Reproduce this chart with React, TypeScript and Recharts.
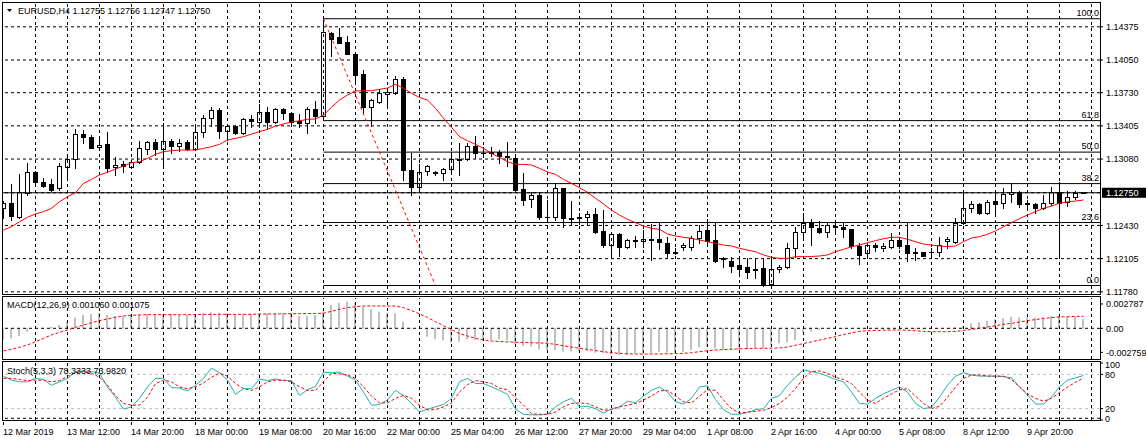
import React from 'react';
import { ComposedChart, Bar, Line, XAxis, YAxis, ReferenceLine } from 'recharts';

const FONT = "'Liberation Sans', Arial, sans-serif";
const W = 1146;
const H = 441;
const AXIS_W = 46;
const PLOT_RIGHT = W - AXIS_W;
const X_DOMAIN: [number, number] = [-0.0625, 137.0625];
const PRICE_DOMAIN: [number, number] = [1.11749, 1.14608];
const MACD_DOMAIN: [number, number] = [-0.00352, 0.003475];

const titleText = 'EURUSD,H4  1.12755 1.12756 1.12747 1.12750';
const macdText = 'MACD(12,26,9) 0.001060 0.001075';
const stochText = 'Stoch(5,3,3) 78.3333 73.9820';

// one label every 8 bars (32 hours), starting at the first bar
const timeLabels = [
  '12 Mar 2019', '13 Mar 12:00', '14 Mar 20:00', '18 Mar 00:00', '19 Mar 08:00', '20 Mar 16:00',
  '22 Mar 00:00', '25 Mar 04:00', '26 Mar 12:00', '27 Mar 20:00', '29 Mar 04:00', '1 Apr 08:00',
  '2 Apr 16:00', '4 Apr 00:00', '5 Apr 08:00', '8 Apr 12:00', '9 Apr 20:00',
];

const priceTicks = [1.1178, 1.12105, 1.1243, 1.1275, 1.1308, 1.13405, 1.1373, 1.1405, 1.14375];
const macdTicks = [-0.002759, 0, 0.002787];
const stochTicks = [0, 20, 80, 100];

const opens = [
  1.12598, 1.12647, 1.12516, 1.1275, 1.1295, 1.12852, 1.12836, 1.12794, 1.13005, 1.13077,
  1.13325, 1.13293, 1.13195, 1.13227, 1.12999, 1.13028, 1.13005, 1.13054, 1.13175, 1.1325,
  1.13175, 1.13257, 1.13208, 1.13244, 1.13181, 1.13342, 1.13479, 1.1356, 1.13357, 1.13406,
  1.13338, 1.13469, 1.13446, 1.13538, 1.13446, 1.1357, 1.13528, 1.13455, 1.13436, 1.13567,
  1.13504, 1.14311, 1.14272, 1.14223, 1.14108, 1.13913, 1.13587, 1.13641, 1.1372, 1.13727,
  1.13861, 1.12973, 1.12809, 1.12963, 1.1295, 1.1294, 1.1298, 1.13077, 1.13077, 1.13208,
  1.13142, 1.13152, 1.13152, 1.1311, 1.13087, 1.12784, 1.12686, 1.12728, 1.12516, 1.1251,
  1.12794, 1.125, 1.125, 1.1251, 1.12539, 1.12378, 1.12238, 1.12343, 1.12222, 1.12287,
  1.12275, 1.12294, 1.12294, 1.12261, 1.1217, 1.12222, 1.12222, 1.1231, 1.12385, 1.12287,
  1.12108, 1.12085, 1.1204, 1.1202, 1.12006, 1.12013, 1.11854, 1.12001, 1.1202, 1.12206,
  1.12363, 1.12451, 1.12402, 1.12369, 1.12424, 1.12418, 1.12392, 1.12229, 1.12157, 1.12238,
  1.12212, 1.12222, 1.12287, 1.12238, 1.12167, 1.12173, 1.12167, 1.12173, 1.12281, 1.12271,
  1.12457, 1.12598, 1.1264, 1.12549, 1.12669, 1.12647, 1.12735, 1.12754, 1.12653, 1.12637,
  1.12598, 1.12653, 1.12754, 1.12662, 1.12711, 1.12755,
];

const highs = [
  1.12669, 1.12836, 1.12934, 1.13038, 1.12963, 1.12891, 1.12885, 1.13038, 1.13103, 1.13371,
  1.13364, 1.13315, 1.13276, 1.13348, 1.13097, 1.13061, 1.13071, 1.1326, 1.13257, 1.13276,
  1.13436, 1.13276, 1.13276, 1.13266, 1.13397, 1.13511, 1.13589, 1.13583, 1.13413, 1.13413,
  1.13479, 1.13511, 1.13619, 1.13592, 1.1358, 1.13577, 1.13543, 1.13518, 1.13587, 1.13648,
  1.14454, 1.14327, 1.1436, 1.14285, 1.14115, 1.13952, 1.13668, 1.13763, 1.13773, 1.13893,
  1.13886, 1.13136, 1.13031, 1.13021, 1.12966, 1.12989, 1.13152, 1.13234, 1.13237, 1.13306,
  1.13201, 1.13201, 1.13168, 1.13247, 1.13097, 1.1294, 1.1276, 1.12745, 1.12679, 1.12842,
  1.12799, 1.12669, 1.12549, 1.12574, 1.12598, 1.12581, 1.12359, 1.12359, 1.123, 1.12327,
  1.12385, 1.12444, 1.12457, 1.1232, 1.12206, 1.12255, 1.12327, 1.12434, 1.1249, 1.12466,
  1.12124, 1.12118, 1.12104, 1.12108, 1.12101, 1.12108, 1.12114, 1.12043, 1.12255, 1.12412,
  1.12555, 1.12493, 1.12476, 1.12451, 1.12457, 1.12457, 1.12398, 1.12255, 1.12255, 1.12255,
  1.12255, 1.12353, 1.12314, 1.12457, 1.12206, 1.12173, 1.12206, 1.12314, 1.12314, 1.125,
  1.12745, 1.12672, 1.12653, 1.12679, 1.12745, 1.12794, 1.12842, 1.1277, 1.12679, 1.12653,
  1.12728, 1.12803, 1.12858, 1.1277, 1.1277, 1.12756,
];

const lows = [
  1.125, 1.12483, 1.12503, 1.12728, 1.12845, 1.12809, 1.1277, 1.12777, 1.12891, 1.12989,
  1.13234, 1.13185, 1.13178, 1.12956, 1.12924, 1.12956, 1.12999, 1.13044, 1.13129, 1.1312,
  1.12989, 1.13136, 1.13162, 1.13168, 1.13175, 1.13299, 1.13403, 1.13289, 1.13266, 1.13325,
  1.13325, 1.13397, 1.13397, 1.13371, 1.13433, 1.13469, 1.13436, 1.13391, 1.13338, 1.13436,
  1.13462, 1.14092, 1.14213, 1.14105, 1.13821, 1.13528, 1.13403, 1.13626, 1.13592, 1.13714,
  1.12875, 1.12728, 1.1276, 1.12924, 1.12924, 1.12875, 1.12966, 1.12924, 1.13071, 1.13087,
  1.13103, 1.1311, 1.13038, 1.13015, 1.1277, 1.1263, 1.12613, 1.1249, 1.12466, 1.12483,
  1.12412, 1.12444, 1.12444, 1.12434, 1.12353, 1.12222, 1.12124, 1.12131, 1.12206, 1.12222,
  1.12222, 1.12092, 1.12196, 1.12124, 1.1215, 1.12189, 1.12189, 1.12261, 1.12261, 1.12075,
  1.12026, 1.11977, 1.11945, 1.11915, 1.11915, 1.11842, 1.11847, 1.11977, 1.1201, 1.12124,
  1.12287, 1.12238, 1.12353, 1.12314, 1.12369, 1.12314, 1.12206, 1.12052, 1.12124, 1.12183,
  1.12183, 1.12206, 1.12206, 1.12085, 1.12092, 1.12131, 1.12131, 1.12131, 1.12206, 1.12261,
  1.12444, 1.12565, 1.12539, 1.12539, 1.12532, 1.12598, 1.12662, 1.12608, 1.12598, 1.12549,
  1.12591, 1.1263, 1.12141, 1.1262, 1.12686, 1.12747,
];

const closes = [
  1.12653, 1.12525, 1.12754, 1.1295, 1.12852, 1.12819, 1.1278, 1.13012, 1.13077, 1.13325,
  1.13293, 1.13191, 1.13215, 1.12995, 1.13019, 1.13012, 1.13054, 1.13185, 1.13244, 1.13175,
  1.13257, 1.13208, 1.13234, 1.13175, 1.13342, 1.13479, 1.1356, 1.13357, 1.13403, 1.13338,
  1.13469, 1.13455, 1.13538, 1.13446, 1.13567, 1.13528, 1.13446, 1.13436, 1.13567, 1.13504,
  1.14321, 1.14255, 1.14219, 1.14108, 1.13906, 1.13592, 1.13658, 1.13724, 1.13733, 1.13861,
  1.12973, 1.12809, 1.12956, 1.13012, 1.1294, 1.1298, 1.13077, 1.13068, 1.13208, 1.13136,
  1.13136, 1.13136, 1.1311, 1.13097, 1.12777, 1.12679, 1.12728, 1.1251, 1.1251, 1.12794,
  1.125, 1.1249, 1.1251, 1.12539, 1.12369, 1.12238, 1.12343, 1.12222, 1.12287, 1.12275,
  1.123, 1.12287, 1.12271, 1.12163, 1.12163, 1.12236, 1.1231, 1.12376, 1.12281, 1.12085,
  1.12098, 1.12033, 1.12006, 1.11977, 1.11994, 1.11847, 1.12001, 1.12026, 1.12206, 1.12363,
  1.12451, 1.12412, 1.12369, 1.12434, 1.12412, 1.12392, 1.12232, 1.12141, 1.12238, 1.12216,
  1.12229, 1.12287, 1.12229, 1.12157, 1.12157, 1.12131, 1.12173, 1.12238, 1.12294, 1.12457,
  1.12598, 1.1264, 1.12549, 1.12662, 1.12637, 1.12738, 1.12754, 1.1264, 1.1264, 1.12598,
  1.12653, 1.12754, 1.12653, 1.12711, 1.1275, 1.1275,
];

const movingAvg = [
  1.12385, 1.12418, 1.12466, 1.1251, 1.12542, 1.12565, 1.12598, 1.12662, 1.12711, 1.1275,
  1.12842, 1.12881, 1.12924, 1.1295, 1.12982, 1.13012, 1.13044, 1.13054, 1.13087, 1.13126,
  1.13152, 1.13162, 1.13168, 1.13168, 1.13168, 1.13185, 1.13201, 1.13224, 1.13266, 1.13283,
  1.13299, 1.13325, 1.13348, 1.13371, 1.13403, 1.13423, 1.13443, 1.13455, 1.13469, 1.13472,
  1.13511, 1.13587, 1.13658, 1.13707, 1.13746, 1.13749, 1.13749, 1.13763, 1.13775, 1.13812,
  1.13773, 1.13724, 1.13684, 1.13658, 1.13577, 1.13479, 1.13391, 1.13299, 1.1326, 1.13224,
  1.13185, 1.13136, 1.13097, 1.13054, 1.13028, 1.13028, 1.13022, 1.12989, 1.12953, 1.1293,
  1.12881, 1.12842, 1.12799, 1.12754, 1.12696, 1.1264, 1.12581, 1.12532, 1.1249, 1.12457,
  1.12424, 1.12402, 1.12392, 1.12346, 1.12327, 1.12314, 1.12304, 1.12287, 1.12271, 1.12255,
  1.12238, 1.12229, 1.12206, 1.12189, 1.12173, 1.12141, 1.12118, 1.12108, 1.12108, 1.12124,
  1.12124, 1.12126, 1.12131, 1.12141, 1.12173, 1.12196, 1.12222, 1.12238, 1.12261, 1.12281,
  1.123, 1.12314, 1.12314, 1.12294, 1.12271, 1.12248, 1.12238, 1.12229, 1.12222, 1.12229,
  1.12271, 1.12307, 1.1232, 1.12343, 1.12376, 1.12418, 1.12457, 1.12496, 1.12532, 1.12565,
  1.12598, 1.1262, 1.12647, 1.12662, 1.12669, 1.12679,
];

const macdMain = [
  -0.00134, -0.00115, -0.00088, -0.00039, -0.00005, 0.00002, 0.00018, 0.00038, 0.00076, 0.00122,
  0.00153, 0.00164, 0.00172, 0.00153, 0.00141, 0.00141, 0.00141, 0.00153, 0.00164, 0.00164,
  0.00164, 0.00164, 0.0016, 0.00156, 0.00164, 0.00172, 0.00183, 0.00179, 0.00172, 0.00164,
  0.00164, 0.00164, 0.00172, 0.00172, 0.00176, 0.00172, 0.00164, 0.00141, 0.00141, 0.00153,
  0.00195, 0.00267, 0.00294, 0.00305, 0.00287, 0.00248, 0.00218, 0.0019, 0.00172, 0.00172,
  0.00076, 0.00005, -0.0001, -0.00096, -0.00125, -0.0014, -0.00165, -0.00154, -0.00126, -0.00134,
  -0.00142, -0.00134, -0.00126, -0.00134, -0.0018, -0.00203, -0.00211, -0.00241, -0.00249, -0.00249,
  -0.00268, -0.00268, -0.0026, -0.0026, -0.0028, -0.00287, -0.00298, -0.00306, -0.00306, -0.00287,
  -0.00287, -0.00287, -0.00268, -0.0028, -0.00287, -0.00268, -0.00249, -0.00218, -0.00211, -0.00229,
  -0.00241, -0.00249, -0.00249, -0.00241, -0.00229, -0.00229, -0.00191, -0.00172, -0.0016, -0.00134,
  -0.0005, -0.00039, -0.0002, -0.0001, -0.00003, 0.00002, -0.00005, -0.00012, -0.0001, -0.00008,
  -0.00005, 0, 0.00002, -0.00005, -0.0001, -0.00012, -0.0001, -0.00005, 0.00003, 0.00011,
  0.00026, 0.00057, 0.00069, 0.00084, 0.00103, 0.00115, 0.00133, 0.00126, 0.00126, 0.00122,
  0.00126, 0.00141, 0.00141, 0.00133, 0.00133, 0.00106,
];

const macdSignal = [
  -0.0026, -0.00241, -0.00218, -0.00191, -0.00154, -0.00115, -0.00077, -0.00046, -0.0002, 0.00011,
  0.00038, 0.00064, 0.00087, 0.00107, 0.00126, 0.00141, 0.00149, 0.00153, 0.00156, 0.00156,
  0.00156, 0.00156, 0.00156, 0.00156, 0.00156, 0.0016, 0.0016, 0.0016, 0.0016, 0.0016,
  0.0016, 0.0016, 0.00164, 0.00164, 0.00164, 0.00166, 0.00168, 0.00168, 0.00168, 0.0017,
  0.00172, 0.00195, 0.00218, 0.00237, 0.00248, 0.00256, 0.00256, 0.00256, 0.00256, 0.00256,
  0.00237, 0.00203, 0.00165, 0.00125, 0.00076, 0.0003, -0.00015, -0.0006, -0.00088, -0.00115,
  -0.00134, -0.00145, -0.00152, -0.00156, -0.0016, -0.00162, -0.00165, -0.00168, -0.00172, -0.00185,
  -0.002, -0.00215, -0.00229, -0.00242, -0.00255, -0.00268, -0.0028, -0.00287, -0.00292, -0.00295,
  -0.00295, -0.00295, -0.00294, -0.00292, -0.0029, -0.00287, -0.0028, -0.00268, -0.00258, -0.00249,
  -0.00244, -0.0024, -0.00235, -0.00232, -0.00229, -0.00229, -0.00229, -0.00225, -0.00215, -0.00195,
  -0.00175, -0.00155, -0.00135, -0.00115, -0.00095, -0.00072, -0.00052, -0.00035, -0.00028, -0.00025,
  -0.00022, -0.0002, -0.0002, -0.00022, -0.00028, -0.00035, -0.00039, -0.00039, -0.00039, -0.00035,
  -0.00025, -0.00012, 0, 0.00015, 0.0003, 0.00045, 0.00057, 0.00072, 0.00088, 0.001,
  0.00112, 0.00122, 0.0013, 0.00134, 0.00136, 0.00138,
];

const stochMain = [
  77, 70, 67, 67, 73, 71, 61, 67, 73, 85, 86, 85, 82, 58, 40, 19, 23, 38, 58, 73,
  73, 57, 56, 51, 61, 73, 91, 83, 70, 45, 55, 55, 72, 69, 72, 69, 69, 43, 53, 59,
  84, 83, 84, 77, 70, 49, 26, 27, 35, 52, 43, 29, 14, 19, 23, 27, 38, 67, 73, 64,
  64, 58, 52, 45, 19, 10, 9, 9, 10, 23, 32, 38, 23, 24, 20, 12, 20, 23, 33, 30,
  42, 52, 58, 49, 32, 28, 38, 58, 60, 36, 18, 10, 10, 13, 18, 20, 38, 43, 61, 75,
  88, 85, 82, 77, 71, 67, 49, 29, 28, 38, 46, 52, 58, 49, 29, 20, 22, 40, 61, 77,
  83, 79, 77, 77, 77, 76, 74, 58, 44, 28, 28, 40, 58, 70, 74, 78,
];

const stochSignal = [
  73, 73, 71, 69, 70, 70, 67, 69, 77, 83, 85, 82, 75, 61, 43, 29, 26, 26, 40, 64,
  70, 67, 58, 55, 58, 65, 75, 82, 77, 64, 55, 52, 58, 67, 70, 70, 67, 58, 52, 52,
  67, 82, 81, 79, 73, 58, 42, 30, 30, 38, 43, 38, 26, 18, 18, 23, 30, 49, 62, 69,
  67, 64, 56, 53, 39, 26, 11, 10, 10, 14, 23, 29, 30, 29, 23, 17, 18, 23, 26, 29,
  35, 42, 51, 52, 42, 32, 30, 42, 53, 52, 35, 20, 12, 14, 15, 17, 22, 29, 40, 55,
  73, 85, 86, 82, 75, 71, 64, 49, 35, 29, 38, 46, 53, 55, 42, 29, 20, 24, 40, 58,
  73, 79, 79, 77, 77, 77, 71, 58, 46, 38, 33, 38, 48, 58, 66, 74,
];

// fibonacci retracement anchors (bar index and price)
const fibStartBar = 40;
const fibEndBar = 54;
const fibHigh = 1.14454;
const fibLow = 1.11842;
const fibRatios = [0, 0.236, 0.382, 0.5, 0.618, 1];

const lastClose = closes[closes.length - 1];
const gridBars = Array.from({ length: 34 }, (_, k) => 4 * (k + 1));
const axisBars = [0, ...gridBars.slice(0, -1)];

const rows = opens.map((open, i) => ({
  i,
  open,
  high: highs[i],
  low: lows[i],
  close: closes[i],
  range: [lows[i], highs[i]],
  ma: movingAvg[i],
  macd: macdMain[i],
  signal: macdSignal[i],
  k: stochMain[i],
  d: stochSignal[i],
}));

const GRID = { stroke: '#000', strokeDasharray: '3 3', strokeWidth: 1 };
const textStyle = { fontFamily: FONT, fontSize: 9, fill: '#000' };

const Candle = (props: any) => {
  const { x, y, width, height, payload } = props;
  if (!payload || x == null || y == null) return null;
  const top = Math.min(y, y + height);
  const bottom = Math.max(y, y + height);
  const span = payload.high - payload.low;
  const toY = (v: number) => (span > 0 ? top + ((payload.high - v) / span) * (bottom - top) : top);
  const cx = Math.floor(x + width / 2) + 0.5;
  const yo = toY(payload.open);
  const yc = toY(payload.close);
  const bTop = Math.round(Math.min(yo, yc)) + 0.5;
  const bBot = Math.round(Math.max(yo, yc)) + 0.5;
  const up = payload.close >= payload.open;
  return (
    <g>
      <line x1={cx} x2={cx} y1={Math.round(top)} y2={Math.round(bottom) + 1} stroke="#000" strokeWidth={1} />
      {bBot - bTop < 1 ? (
        <line x1={cx - 2.5} x2={cx + 2.5} y1={bTop} y2={bTop} stroke="#000" strokeWidth={1} />
      ) : (
        <rect x={cx - 2} y={bTop} width={4} height={bBot - bTop} fill={up ? '#fff' : '#000'} stroke="#000" strokeWidth={1} />
      )}
    </g>
  );
};

const HistBar = (props: any) => {
  const { x, y, width, height } = props;
  if (x == null || y == null || !height) return null;
  const top = Math.min(y, y + height);
  const h = Math.abs(height);
  const cx = Math.floor(x + width / 2);
  return <rect x={cx - 1} y={top} width={2} height={Math.max(h, 0.5)} fill="#c0c0c0" />;
};

const PriceTick = (props: any) => {
  const { y, payload } = props;
  const v = payload.value;
  if (v === lastClose) {
    return (
      <g>
        <rect x={PLOT_RIGHT + 2} y={y - 5} width={W - PLOT_RIGHT - 2} height={10} fill="#000" />
        <text x={PLOT_RIGHT + 6} y={y + 3.3} style={{ ...textStyle, fill: '#fff' }}>{v.toFixed(5)}</text>
      </g>
    );
  }
  return (
    <g>
      <line x1={PLOT_RIGHT} x2={PLOT_RIGHT + 3} y1={y} y2={y} stroke="#000" />
      <text x={PLOT_RIGHT + 6} y={y + 3.3} style={textStyle}>{v.toFixed(5)}</text>
    </g>
  );
};

const MacdTick = (props: any) => {
  const { y, payload } = props;
  const v = payload.value;
  return (
    <g>
      <line x1={PLOT_RIGHT} x2={PLOT_RIGHT + 3} y1={y} y2={y} stroke="#000" />
      <text x={PLOT_RIGHT + 6} y={y + 3.3} style={textStyle}>{v === 0 ? '0.00' : v.toFixed(6)}</text>
    </g>
  );
};

// 100 and 0 sit just inside the pane, next to 80 and 20
const StochTick = (props: any) => {
  const { y, payload } = props;
  const v = payload.value;
  const dy = v === 100 ? 1.5 : v === 0 ? -1.5 : 0;
  return (
    <g>
      <line x1={PLOT_RIGHT} x2={PLOT_RIGHT + 3} y1={y} y2={y} stroke="#000" />
      <text x={PLOT_RIGHT + 5} y={y + dy + 3.3} style={textStyle}>{v}</text>
    </g>
  );
};

const TimeTick = (props: any) => {
  const { x, y, payload } = props;
  const b = payload.value;
  const label = b % 8 === 0 ? timeLabels[b / 8] : null;
  return (
    <g>
      <line x1={Math.floor(x) + 0.5} x2={Math.floor(x) + 0.5} y1={y} y2={y + 3} stroke="#000" />
      {label && <text x={x - 0.5} y={y + 12.5} style={textStyle}>{label}</text>}
    </g>
  );
};

const FibLabel = (props: any) => {
  const { viewBox, text } = props;
  if (!viewBox) return null;
  return (
    <text x={viewBox.x + viewBox.width - 1} y={viewBox.y - 3} textAnchor="end" style={textStyle}>{text}</text>
  );
};

const verticalGrid = () =>
  gridBars.map((b) => <ReferenceLine key={`vg-${b}`} x={b} {...GRID} />);

export default function App() {
  return (
    <div style={{ position: 'absolute', left: 0, top: 0, width: W, height: H, background: '#fff', overflow: 'hidden' }}>
      <div style={{ position: 'absolute', left: 0, top: 0 }}>
        <ComposedChart width={W} height={296} data={rows} margin={{ top: 3, right: 0, bottom: 1, left: 3 }}>
          <XAxis dataKey="i" type="number" domain={X_DOMAIN} hide allowDataOverflow />
          <YAxis
            orientation="right"
            width={AXIS_W}
            domain={PRICE_DOMAIN}
            ticks={[...priceTicks.filter((p) => p !== lastClose), lastClose]}
            interval={0}
            axisLine={false}
            tickLine={false}
            tick={(p: any) => <PriceTick {...p} />}
            allowDataOverflow
          />
          {verticalGrid()}
          {priceTicks.map((p) => (
            <ReferenceLine key={`hg-${p}`} y={p} {...GRID} />
          ))}
          <ReferenceLine y={lastClose} stroke="#000" strokeWidth={1} />
          {fibRatios.map((r) => {
            const level = fibLow + r * (fibHigh - fibLow);
            return (
              <ReferenceLine
                key={`fib-${r}`}
                segment={[{ x: fibStartBar, y: level }, { x: X_DOMAIN[1], y: level }]}
                stroke="#000"
                strokeWidth={1}
              />
            );
          })}
          {fibRatios.map((r) => (
            <ReferenceLine
              key={`fibl-${r}`}
              y={fibLow + r * (fibHigh - fibLow)}
              stroke="none"
              label={<FibLabel text={(r * 100).toFixed(1)} />}
            />
          ))}
          <ReferenceLine
            segment={[{ x: fibStartBar, y: fibHigh }, { x: fibEndBar, y: fibLow }]}
            stroke="#ff0000"
            strokeDasharray="3 3"
          />
          <Bar dataKey="range" barSize={5} shape={(p: any) => <Candle {...p} />} isAnimationActive={false} />
          <Line dataKey="ma" stroke="#ff0000" strokeWidth={1} dot={false} activeDot={false} isAnimationActive={false} />
        </ComposedChart>
      </div>

      <div style={{ position: 'absolute', left: 0, top: 296 }}>
        <ComposedChart width={W} height={65} data={rows} margin={{ top: 2, right: 0, bottom: 2, left: 3 }}>
          <XAxis dataKey="i" type="number" domain={X_DOMAIN} hide allowDataOverflow />
          <YAxis
            orientation="right"
            width={AXIS_W}
            domain={MACD_DOMAIN}
            ticks={macdTicks}
            interval={0}
            axisLine={false}
            tickLine={false}
            tick={(p: any) => <MacdTick {...p} />}
            allowDataOverflow
          />
          {verticalGrid()}
          <ReferenceLine y={0} {...GRID} />
          <Bar dataKey="macd" barSize={2} shape={(p: any) => <HistBar {...p} />} isAnimationActive={false} />
          <Line dataKey="signal" stroke="#ff0000" strokeWidth={1} strokeDasharray="3 2" dot={false} activeDot={false} isAnimationActive={false} />
        </ComposedChart>
      </div>

      <div style={{ position: 'absolute', left: 0, top: 361 }}>
        <ComposedChart width={W} height={80} data={rows} margin={{ top: 2, right: 0, bottom: 0, left: 3 }}>
          <XAxis
            dataKey="i"
            type="number"
            domain={X_DOMAIN}
            ticks={axisBars}
            interval={0}
            height={21}
            axisLine={false}
            tickLine={false}
            tickSize={0}
            tick={(p: any) => <TimeTick {...p} />}
            allowDataOverflow
          />
          <YAxis
            orientation="right"
            width={AXIS_W}
            domain={[0, 100]}
            ticks={stochTicks}
            interval={0}
            axisLine={false}
            tickLine={false}
            tick={(p: any) => <StochTick {...p} />}
            allowDataOverflow
          />
          {verticalGrid()}
          <ReferenceLine y={3} {...GRID} />
          <ReferenceLine y={20} stroke="#c0c0c0" strokeDasharray="3 3" />
          <ReferenceLine y={80} stroke="#c0c0c0" strokeDasharray="3 3" />
          <Line dataKey="k" stroke="#20b2aa" strokeWidth={1} dot={false} activeDot={false} isAnimationActive={false} />
          <Line dataKey="d" stroke="#ff0000" strokeWidth={1} strokeDasharray="3 2" dot={false} activeDot={false} isAnimationActive={false} />
        </ComposedChart>
      </div>

      <svg width={W} height={H} style={{ position: 'absolute', left: 0, top: 0, pointerEvents: 'none' }}>
        <rect x={2.5} y={2.5} width={PLOT_RIGHT - 2} height={292} fill="none" stroke="#000" />
        <rect x={2.5} y={296.5} width={PLOT_RIGHT - 2} height={63} fill="none" stroke="#000" />
        <rect x={2.5} y={361.5} width={PLOT_RIGHT - 2} height={59} fill="none" stroke="#000" />
        <polygon points="7,9 12,9 9.5,12" fill="#000" />
        <text x={18} y={14} style={textStyle}>{titleText}</text>
        <text x={7} y={308} style={textStyle}>{macdText}</text>
        <text x={7} y={374} style={textStyle}>{stochText}</text>
      </svg>
    </div>
  );
}
